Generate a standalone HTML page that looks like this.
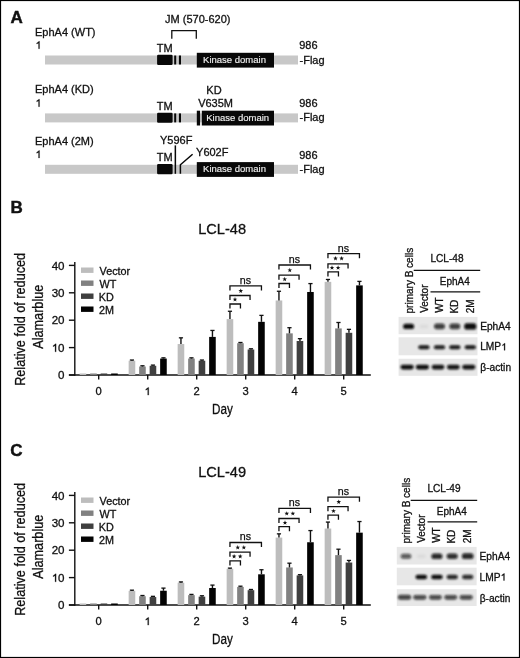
<!DOCTYPE html>
<html><head><meta charset="utf-8"><style>
html,body{margin:0;padding:0;background:#fff;}
svg{display:block;font-family:"Liberation Sans", sans-serif;will-change:transform;}
</style></head><body>
<svg width="520" height="658" viewBox="0 0 520 658">
<defs><filter id="bl" x="-50%" y="-50%" width="200%" height="200%"><feGaussianBlur stdDeviation="1.0"/></filter></defs>
<rect x="0" y="0" width="520" height="658" fill="#fff"/>
<text x="10.48" y="22.90" font-size="17.0" font-weight="bold" fill="#111"  stroke="#111" stroke-width="0.45">A</text>
<text x="35.00" y="35.57" font-size="11.0" fill="#111"  stroke="#111" stroke-width="0.3">EphA4 (WT)</text>
<path d="M39.54,48.73 L39.54,41.30 L38.85,41.30 L38.21,41.95 L36.67,42.97 L36.67,43.95 L38.53,43.14 L38.53,48.73 Z" fill="#111" stroke="#111" stroke-width="0.24"/>
<rect x="45.00" y="55.50" width="253.00" height="9.00" fill="#c8c8c8" />
<text x="156.75" y="52.17" font-size="11.0" fill="#111"  stroke="#111" stroke-width="0.3">TM</text>
<rect x="157.1" y="54.80" width="15.5" height="10.1" rx="1.2" fill="#080808"/>
<rect x="174.20" y="55.50" width="2.00" height="9.00" fill="#080808" />
<rect x="178.90" y="55.50" width="2.10" height="9.00" fill="#080808" />
<rect x="196.80" y="52.80" width="77.20" height="14.80" fill="#080808" />
<text x="203.12" y="62.84" font-size="9.5" fill="#f0f0f0"  stroke="#f0f0f0" stroke-width="0.15">Kinase domain</text>
<text x="299.18" y="49.47" font-size="11.0" fill="#111"  stroke="#111" stroke-width="0.3">986</text>
<text x="299.51" y="63.57" font-size="11.0" fill="#111"  stroke="#111" stroke-width="0.3">-Flag</text>
<text x="165.03" y="23.17" font-size="11.0" fill="#111"  stroke="#111" stroke-width="0.3">JM (570-620)</text>
<path d="M171.8,38.8 V30.6 H196.3 V38.8" stroke="#111" stroke-width="1.3" fill="none"/>
<text x="35.00" y="93.47" font-size="11.0" fill="#111"  stroke="#111" stroke-width="0.3">EphA4 (KD)</text>
<path d="M39.54,106.63 L39.54,99.20 L38.85,99.20 L38.21,99.85 L36.67,100.87 L36.67,101.85 L38.53,101.04 L38.53,106.63 Z" fill="#111" stroke="#111" stroke-width="0.24"/>
<rect x="45.00" y="113.40" width="253.00" height="9.00" fill="#c8c8c8" />
<text x="156.75" y="110.07" font-size="11.0" fill="#111"  stroke="#111" stroke-width="0.3">TM</text>
<rect x="157.1" y="112.70" width="15.5" height="10.1" rx="1.2" fill="#080808"/>
<rect x="174.20" y="113.40" width="2.00" height="9.00" fill="#080808" />
<rect x="178.90" y="113.40" width="2.10" height="9.00" fill="#080808" />
<rect x="196.80" y="110.70" width="3.30" height="14.80" fill="#080808" />
<rect x="201.80" y="110.70" width="72.20" height="14.80" fill="#080808" />
<text x="206.22" y="120.74" font-size="9.5" fill="#f0f0f0"  stroke="#f0f0f0" stroke-width="0.15">Kinase domain</text>
<text x="299.18" y="107.37" font-size="11.0" fill="#111"  stroke="#111" stroke-width="0.3">986</text>
<text x="299.51" y="121.47" font-size="11.0" fill="#111"  stroke="#111" stroke-width="0.3">-Flag</text>
<text x="206.30" y="93.77" font-size="11.0" fill="#111"  stroke="#111" stroke-width="0.3">KD</text>
<text x="198.15" y="107.37" font-size="11.0" fill="#111"  stroke="#111" stroke-width="0.3">V635M</text>
<text x="35.00" y="144.87" font-size="11.0" fill="#111"  stroke="#111" stroke-width="0.3">EphA4 (2M)</text>
<path d="M39.54,158.03 L39.54,150.60 L38.85,150.60 L38.21,151.25 L36.67,152.27 L36.67,153.25 L38.53,152.44 L38.53,158.03 Z" fill="#111" stroke="#111" stroke-width="0.24"/>
<rect x="45.00" y="164.80" width="253.00" height="9.00" fill="#c8c8c8" />
<text x="156.75" y="161.47" font-size="11.0" fill="#111"  stroke="#111" stroke-width="0.3">TM</text>
<rect x="157.1" y="164.10" width="15.5" height="10.1" rx="1.2" fill="#080808"/>
<rect x="196.80" y="162.10" width="77.20" height="14.80" fill="#080808" />
<text x="203.12" y="172.14" font-size="9.5" fill="#f0f0f0"  stroke="#f0f0f0" stroke-width="0.15">Kinase domain</text>
<text x="299.18" y="158.77" font-size="11.0" fill="#111"  stroke="#111" stroke-width="0.3">986</text>
<text x="299.51" y="172.87" font-size="11.0" fill="#111"  stroke="#111" stroke-width="0.3">-Flag</text>
<text x="159.96" y="143.77" font-size="11.0" fill="#111"  stroke="#111" stroke-width="0.3">Y596F</text>
<text x="196.06" y="155.87" font-size="11.0" fill="#111"  stroke="#111" stroke-width="0.3">Y602F</text>
<rect x="174.60" y="145.40" width="1.50" height="28.40" fill="#080808" />
<path d="M192.6,154.2 L180.4,164.8 V173.8" stroke="#080808" stroke-width="1.5" fill="none"/>
<text x="198.18" y="233.94" font-size="14.6" fill="#111"  stroke="#111" stroke-width="0.3">LCL-48</text>
<line x1="74.80" y1="261.90" x2="74.80" y2="375.70" stroke="#111" stroke-width="1.4"/>
<line x1="68.90" y1="375.00" x2="74.80" y2="375.00" stroke="#111" stroke-width="1.4"/>
<text x="58.10" y="379.23" font-size="11.6" fill="#111"  stroke="#111" stroke-width="0.3">0</text>
<line x1="68.90" y1="347.60" x2="74.80" y2="347.60" stroke="#111" stroke-width="1.4"/>
<path d="M56.12,351.83 L56.12,343.85 L55.39,343.85 L54.69,344.55 L53.04,345.65 L53.04,346.69 L55.04,345.82 L55.04,351.83 Z" fill="#111" stroke="#111" stroke-width="0.24"/>
<text x="58.10" y="351.83" font-size="11.6" fill="#111"  stroke="#111" stroke-width="0.3">0</text>
<line x1="68.90" y1="320.20" x2="74.80" y2="320.20" stroke="#111" stroke-width="1.4"/>
<text x="51.65" y="324.43" font-size="11.6" fill="#111"  stroke="#111" stroke-width="0.3">20</text>
<line x1="68.90" y1="292.80" x2="74.80" y2="292.80" stroke="#111" stroke-width="1.4"/>
<text x="51.65" y="297.03" font-size="11.6" fill="#111"  stroke="#111" stroke-width="0.3">30</text>
<line x1="68.90" y1="265.40" x2="74.80" y2="265.40" stroke="#111" stroke-width="1.4"/>
<text x="51.65" y="269.63" font-size="11.6" fill="#111"  stroke="#111" stroke-width="0.3">40</text>
<line x1="68.90" y1="375.00" x2="370.80" y2="375.00" stroke="#111" stroke-width="1.4"/>
<line x1="98.70" y1="375.00" x2="98.70" y2="379.60" stroke="#111" stroke-width="1.4"/>
<text x="95.59" y="395.11" font-size="11.2" fill="#111"  stroke="#111" stroke-width="0.3">0</text>
<line x1="147.70" y1="375.00" x2="147.70" y2="379.60" stroke="#111" stroke-width="1.4"/>
<path d="M148.74,395.11 L148.74,387.40 L148.04,387.40 L147.37,388.07 L145.78,389.14 L145.78,390.14 L147.70,389.30 L147.70,395.11 Z" fill="#111" stroke="#111" stroke-width="0.24"/>
<line x1="196.70" y1="375.00" x2="196.70" y2="379.60" stroke="#111" stroke-width="1.4"/>
<text x="193.59" y="395.11" font-size="11.2" fill="#111"  stroke="#111" stroke-width="0.3">2</text>
<line x1="245.70" y1="375.00" x2="245.70" y2="379.60" stroke="#111" stroke-width="1.4"/>
<text x="242.62" y="395.11" font-size="11.2" fill="#111"  stroke="#111" stroke-width="0.3">3</text>
<line x1="294.70" y1="375.00" x2="294.70" y2="379.60" stroke="#111" stroke-width="1.4"/>
<text x="291.62" y="395.11" font-size="11.2" fill="#111"  stroke="#111" stroke-width="0.3">4</text>
<line x1="343.70" y1="375.00" x2="343.70" y2="379.60" stroke="#111" stroke-width="1.4"/>
<text x="340.60" y="395.11" font-size="11.2" fill="#111"  stroke="#111" stroke-width="0.3">5</text>
<text transform="translate(212.04,414.38) scale(0.79,1)" font-size="14.8" fill="#111"  stroke="#111" stroke-width="0.3">Day</text>
<text transform="translate(25.30,385.84) rotate(-90) scale(0.85,1)" font-size="14.9" fill="#111" stroke="#111" stroke-width="0.3">Relative fold of reduced</text>
<text transform="translate(42.90,348.72) rotate(-90) scale(0.85,1)" font-size="14.9" fill="#111" stroke="#111" stroke-width="0.3">Alamarblue</text>
<rect x="81.00" y="267.50" width="12.50" height="5.40" fill="#bdbdbd" />
<text x="99.55" y="274.83" font-size="10.8" fill="#111"  stroke="#111" stroke-width="0.3">Vector</text>
<rect x="81.00" y="280.50" width="12.50" height="5.40" fill="#818181" />
<text x="99.55" y="287.83" font-size="10.8" fill="#111"  stroke="#111" stroke-width="0.3">WT</text>
<rect x="81.00" y="293.50" width="12.50" height="5.40" fill="#3f3f3f" />
<text x="98.71" y="300.83" font-size="10.8" fill="#111"  stroke="#111" stroke-width="0.3">KD</text>
<rect x="81.00" y="306.50" width="12.50" height="5.40" fill="#030303" />
<text x="99.06" y="313.83" font-size="10.8" fill="#111"  stroke="#111" stroke-width="0.3">2M</text>
<rect x="79.65" y="373.49" width="6.60" height="1.51" fill="#bdbdbd" />
<rect x="90.15" y="373.49" width="6.60" height="1.51" fill="#818181" />
<rect x="100.65" y="373.49" width="6.60" height="1.51" fill="#3f3f3f" />
<rect x="111.15" y="373.49" width="6.60" height="1.51" fill="#030303" />
<rect x="128.65" y="360.75" width="6.60" height="14.25" fill="#bdbdbd" />
<line x1="131.95" y1="359.93" x2="131.95" y2="360.75" stroke="#111" stroke-width="1.4"/>
<line x1="129.85" y1="360.03" x2="134.05" y2="360.03" stroke="#111" stroke-width="1.3"/>
<rect x="139.15" y="366.51" width="6.60" height="8.49" fill="#818181" />
<line x1="142.45" y1="365.68" x2="142.45" y2="366.51" stroke="#111" stroke-width="1.4"/>
<line x1="140.35" y1="365.78" x2="144.55" y2="365.78" stroke="#111" stroke-width="1.3"/>
<rect x="149.65" y="365.82" width="6.60" height="9.18" fill="#3f3f3f" />
<line x1="152.95" y1="365.00" x2="152.95" y2="365.82" stroke="#111" stroke-width="1.4"/>
<line x1="150.85" y1="365.10" x2="155.05" y2="365.10" stroke="#111" stroke-width="1.3"/>
<rect x="160.15" y="358.56" width="6.60" height="16.44" fill="#030303" />
<line x1="163.45" y1="357.74" x2="163.45" y2="358.56" stroke="#111" stroke-width="1.4"/>
<line x1="161.35" y1="357.84" x2="165.55" y2="357.84" stroke="#111" stroke-width="1.3"/>
<rect x="177.65" y="344.04" width="6.60" height="30.96" fill="#bdbdbd" />
<line x1="180.95" y1="337.74" x2="180.95" y2="344.04" stroke="#111" stroke-width="1.4"/>
<line x1="178.85" y1="337.84" x2="183.05" y2="337.84" stroke="#111" stroke-width="1.3"/>
<rect x="188.15" y="358.56" width="6.60" height="16.44" fill="#818181" />
<line x1="191.45" y1="357.74" x2="191.45" y2="358.56" stroke="#111" stroke-width="1.4"/>
<line x1="189.35" y1="357.84" x2="193.55" y2="357.84" stroke="#111" stroke-width="1.3"/>
<rect x="198.65" y="360.75" width="6.60" height="14.25" fill="#3f3f3f" />
<line x1="201.95" y1="359.93" x2="201.95" y2="360.75" stroke="#111" stroke-width="1.4"/>
<line x1="199.85" y1="360.03" x2="204.05" y2="360.03" stroke="#111" stroke-width="1.3"/>
<rect x="209.15" y="336.91" width="6.60" height="38.09" fill="#030303" />
<line x1="212.45" y1="330.34" x2="212.45" y2="336.91" stroke="#111" stroke-width="1.4"/>
<line x1="210.35" y1="330.44" x2="214.55" y2="330.44" stroke="#111" stroke-width="1.3"/>
<rect x="226.65" y="319.10" width="6.60" height="55.90" fill="#bdbdbd" />
<line x1="229.95" y1="311.16" x2="229.95" y2="319.10" stroke="#111" stroke-width="1.4"/>
<line x1="227.85" y1="311.26" x2="232.05" y2="311.26" stroke="#111" stroke-width="1.3"/>
<rect x="237.15" y="343.22" width="6.60" height="31.78" fill="#818181" />
<line x1="240.45" y1="342.39" x2="240.45" y2="343.22" stroke="#111" stroke-width="1.4"/>
<line x1="238.35" y1="342.49" x2="242.55" y2="342.49" stroke="#111" stroke-width="1.3"/>
<rect x="247.65" y="349.52" width="6.60" height="25.48" fill="#3f3f3f" />
<line x1="250.95" y1="348.70" x2="250.95" y2="349.52" stroke="#111" stroke-width="1.4"/>
<line x1="248.85" y1="348.80" x2="253.05" y2="348.80" stroke="#111" stroke-width="1.3"/>
<rect x="258.15" y="321.84" width="6.60" height="53.16" fill="#030303" />
<line x1="261.45" y1="315.27" x2="261.45" y2="321.84" stroke="#111" stroke-width="1.4"/>
<line x1="259.35" y1="315.37" x2="263.55" y2="315.37" stroke="#111" stroke-width="1.3"/>
<rect x="275.65" y="300.47" width="6.60" height="74.53" fill="#bdbdbd" />
<line x1="278.95" y1="291.16" x2="278.95" y2="300.47" stroke="#111" stroke-width="1.4"/>
<line x1="276.85" y1="291.26" x2="281.05" y2="291.26" stroke="#111" stroke-width="1.3"/>
<rect x="286.15" y="333.35" width="6.60" height="41.65" fill="#818181" />
<line x1="289.45" y1="327.60" x2="289.45" y2="333.35" stroke="#111" stroke-width="1.4"/>
<line x1="287.35" y1="327.70" x2="291.55" y2="327.70" stroke="#111" stroke-width="1.3"/>
<rect x="296.65" y="341.02" width="6.60" height="33.98" fill="#3f3f3f" />
<line x1="299.95" y1="338.56" x2="299.95" y2="341.02" stroke="#111" stroke-width="1.4"/>
<line x1="297.85" y1="338.66" x2="302.05" y2="338.66" stroke="#111" stroke-width="1.3"/>
<rect x="307.15" y="291.98" width="6.60" height="83.02" fill="#030303" />
<line x1="310.45" y1="283.48" x2="310.45" y2="291.98" stroke="#111" stroke-width="1.4"/>
<line x1="308.35" y1="283.58" x2="312.55" y2="283.58" stroke="#111" stroke-width="1.3"/>
<rect x="324.65" y="281.84" width="6.60" height="93.16" fill="#bdbdbd" />
<line x1="327.95" y1="279.37" x2="327.95" y2="281.84" stroke="#111" stroke-width="1.4"/>
<line x1="325.85" y1="279.47" x2="330.05" y2="279.47" stroke="#111" stroke-width="1.3"/>
<rect x="335.15" y="328.42" width="6.60" height="46.58" fill="#818181" />
<line x1="338.45" y1="322.39" x2="338.45" y2="328.42" stroke="#111" stroke-width="1.4"/>
<line x1="336.35" y1="322.49" x2="340.55" y2="322.49" stroke="#111" stroke-width="1.3"/>
<rect x="345.65" y="332.80" width="6.60" height="42.20" fill="#3f3f3f" />
<line x1="348.95" y1="329.24" x2="348.95" y2="332.80" stroke="#111" stroke-width="1.4"/>
<line x1="346.85" y1="329.34" x2="351.05" y2="329.34" stroke="#111" stroke-width="1.3"/>
<rect x="356.15" y="285.40" width="6.60" height="89.60" fill="#030303" />
<line x1="359.45" y1="281.29" x2="359.45" y2="285.40" stroke="#111" stroke-width="1.4"/>
<line x1="357.35" y1="281.39" x2="361.55" y2="281.39" stroke="#111" stroke-width="1.3"/>
<path d="M229.95,308.60 V304.00 H240.45 V308.60" stroke="#111" stroke-width="1.3" fill="none"/>
<polygon points="235.00,297.10 235.59,298.74 237.33,298.79 235.95,299.86 236.44,301.53 235.00,300.55 233.56,301.53 234.05,299.86 232.67,298.79 234.41,298.74" fill="#111"/>
<path d="M229.95,300.10 V295.50 H250.05 V300.10" stroke="#111" stroke-width="1.3" fill="none"/>
<polygon points="240.75,288.45 241.34,290.09 243.08,290.14 241.70,291.21 242.19,292.88 240.75,291.90 239.31,292.88 239.80,291.21 238.42,290.14 240.16,290.09" fill="#111"/>
<path d="M229.95,290.40 V285.80 H261.45 V290.40" stroke="#111" stroke-width="1.3" fill="none"/>
<text x="239.79" y="283.70" font-size="10.7" fill="#111"  stroke="#111" stroke-width="0.25">ns</text>
<path d="M278.95,288.10 V283.50 H289.45 V288.10" stroke="#111" stroke-width="1.3" fill="none"/>
<polygon points="284.70,276.85 285.29,278.49 287.03,278.54 285.65,279.61 286.14,281.28 284.70,280.30 283.26,281.28 283.75,279.61 282.37,278.54 284.11,278.49" fill="#111"/>
<path d="M278.95,279.70 V275.10 H299.05 V279.70" stroke="#111" stroke-width="1.3" fill="none"/>
<polygon points="289.80,267.85 290.39,269.49 292.13,269.54 290.75,270.61 291.24,272.28 289.80,271.30 288.36,272.28 288.85,270.61 287.47,269.54 289.21,269.49" fill="#111"/>
<path d="M278.95,269.60 V265.00 H310.45 V269.60" stroke="#111" stroke-width="1.3" fill="none"/>
<text x="288.79" y="262.90" font-size="10.7" fill="#111"  stroke="#111" stroke-width="0.25">ns</text>
<path d="M327.95,276.50 V271.90 H338.45 V276.50" stroke="#111" stroke-width="1.3" fill="none"/>
<polygon points="332.00,265.35 332.59,266.99 334.33,267.04 332.95,268.11 333.44,269.78 332.00,268.80 330.56,269.78 331.05,268.11 329.67,267.04 331.41,266.99" fill="#111"/>
<polygon points="338.10,265.35 338.69,266.99 340.43,267.04 339.05,268.11 339.54,269.78 338.10,268.80 336.66,269.78 337.15,268.11 335.77,267.04 337.51,266.99" fill="#111"/>
<path d="M327.95,268.40 V263.80 H348.05 V268.40" stroke="#111" stroke-width="1.3" fill="none"/>
<polygon points="335.50,255.95 336.09,257.59 337.83,257.64 336.45,258.71 336.94,260.38 335.50,259.40 334.06,260.38 334.55,258.71 333.17,257.64 334.91,257.59" fill="#111"/>
<polygon points="341.60,255.95 342.19,257.59 343.93,257.64 342.55,258.71 343.04,260.38 341.60,259.40 340.16,260.38 340.65,258.71 339.27,257.64 341.01,257.59" fill="#111"/>
<path d="M327.95,258.30 V253.70 H359.45 V258.30" stroke="#111" stroke-width="1.3" fill="none"/>
<text x="337.79" y="251.60" font-size="10.7" fill="#111"  stroke="#111" stroke-width="0.25">ns</text>
<text x="198.20" y="476.94" font-size="14.6" fill="#111"  stroke="#111" stroke-width="0.3">LCL-49</text>
<line x1="74.80" y1="491.90" x2="74.80" y2="605.70" stroke="#111" stroke-width="1.4"/>
<line x1="68.90" y1="605.00" x2="74.80" y2="605.00" stroke="#111" stroke-width="1.4"/>
<text x="58.10" y="609.23" font-size="11.6" fill="#111"  stroke="#111" stroke-width="0.3">0</text>
<line x1="68.90" y1="577.60" x2="74.80" y2="577.60" stroke="#111" stroke-width="1.4"/>
<path d="M56.12,581.83 L56.12,573.85 L55.39,573.85 L54.69,574.55 L53.04,575.65 L53.04,576.69 L55.04,575.82 L55.04,581.83 Z" fill="#111" stroke="#111" stroke-width="0.24"/>
<text x="58.10" y="581.83" font-size="11.6" fill="#111"  stroke="#111" stroke-width="0.3">0</text>
<line x1="68.90" y1="550.20" x2="74.80" y2="550.20" stroke="#111" stroke-width="1.4"/>
<text x="51.65" y="554.43" font-size="11.6" fill="#111"  stroke="#111" stroke-width="0.3">20</text>
<line x1="68.90" y1="522.80" x2="74.80" y2="522.80" stroke="#111" stroke-width="1.4"/>
<text x="51.65" y="527.03" font-size="11.6" fill="#111"  stroke="#111" stroke-width="0.3">30</text>
<line x1="68.90" y1="495.40" x2="74.80" y2="495.40" stroke="#111" stroke-width="1.4"/>
<text x="51.65" y="499.63" font-size="11.6" fill="#111"  stroke="#111" stroke-width="0.3">40</text>
<line x1="68.90" y1="605.00" x2="370.80" y2="605.00" stroke="#111" stroke-width="1.4"/>
<line x1="98.70" y1="605.00" x2="98.70" y2="609.60" stroke="#111" stroke-width="1.4"/>
<text x="95.59" y="625.11" font-size="11.2" fill="#111"  stroke="#111" stroke-width="0.3">0</text>
<line x1="147.70" y1="605.00" x2="147.70" y2="609.60" stroke="#111" stroke-width="1.4"/>
<path d="M148.74,625.11 L148.74,617.40 L148.04,617.40 L147.37,618.07 L145.78,619.14 L145.78,620.14 L147.70,619.30 L147.70,625.11 Z" fill="#111" stroke="#111" stroke-width="0.24"/>
<line x1="196.70" y1="605.00" x2="196.70" y2="609.60" stroke="#111" stroke-width="1.4"/>
<text x="193.59" y="625.11" font-size="11.2" fill="#111"  stroke="#111" stroke-width="0.3">2</text>
<line x1="245.70" y1="605.00" x2="245.70" y2="609.60" stroke="#111" stroke-width="1.4"/>
<text x="242.62" y="625.11" font-size="11.2" fill="#111"  stroke="#111" stroke-width="0.3">3</text>
<line x1="294.70" y1="605.00" x2="294.70" y2="609.60" stroke="#111" stroke-width="1.4"/>
<text x="291.62" y="625.11" font-size="11.2" fill="#111"  stroke="#111" stroke-width="0.3">4</text>
<line x1="343.70" y1="605.00" x2="343.70" y2="609.60" stroke="#111" stroke-width="1.4"/>
<text x="340.60" y="625.11" font-size="11.2" fill="#111"  stroke="#111" stroke-width="0.3">5</text>
<text transform="translate(212.04,644.38) scale(0.79,1)" font-size="14.8" fill="#111"  stroke="#111" stroke-width="0.3">Day</text>
<text transform="translate(25.30,615.84) rotate(-90) scale(0.85,1)" font-size="14.9" fill="#111" stroke="#111" stroke-width="0.3">Relative fold of reduced</text>
<text transform="translate(42.90,578.72) rotate(-90) scale(0.85,1)" font-size="14.9" fill="#111" stroke="#111" stroke-width="0.3">Alamarblue</text>
<rect x="81.00" y="497.50" width="12.50" height="5.40" fill="#bdbdbd" />
<text x="99.55" y="504.83" font-size="10.8" fill="#111"  stroke="#111" stroke-width="0.3">Vector</text>
<rect x="81.00" y="510.50" width="12.50" height="5.40" fill="#818181" />
<text x="99.55" y="517.83" font-size="10.8" fill="#111"  stroke="#111" stroke-width="0.3">WT</text>
<rect x="81.00" y="523.50" width="12.50" height="5.40" fill="#3f3f3f" />
<text x="98.71" y="530.83" font-size="10.8" fill="#111"  stroke="#111" stroke-width="0.3">KD</text>
<rect x="81.00" y="536.50" width="12.50" height="5.40" fill="#030303" />
<text x="99.06" y="543.83" font-size="10.8" fill="#111"  stroke="#111" stroke-width="0.3">2M</text>
<rect x="79.65" y="603.49" width="6.60" height="1.51" fill="#bdbdbd" />
<rect x="90.15" y="603.49" width="6.60" height="1.51" fill="#818181" />
<rect x="100.65" y="603.49" width="6.60" height="1.51" fill="#3f3f3f" />
<rect x="111.15" y="603.49" width="6.60" height="1.51" fill="#030303" />
<rect x="128.65" y="590.89" width="6.60" height="14.11" fill="#bdbdbd" />
<line x1="131.95" y1="590.07" x2="131.95" y2="590.89" stroke="#111" stroke-width="1.4"/>
<line x1="129.85" y1="590.17" x2="134.05" y2="590.17" stroke="#111" stroke-width="1.3"/>
<rect x="139.15" y="596.23" width="6.60" height="8.77" fill="#818181" />
<line x1="142.45" y1="595.41" x2="142.45" y2="596.23" stroke="#111" stroke-width="1.4"/>
<line x1="140.35" y1="595.51" x2="144.55" y2="595.51" stroke="#111" stroke-width="1.3"/>
<rect x="149.65" y="597.05" width="6.60" height="7.95" fill="#3f3f3f" />
<line x1="152.95" y1="596.23" x2="152.95" y2="597.05" stroke="#111" stroke-width="1.4"/>
<line x1="150.85" y1="596.33" x2="155.05" y2="596.33" stroke="#111" stroke-width="1.3"/>
<rect x="160.15" y="590.75" width="6.60" height="14.25" fill="#030303" />
<line x1="163.45" y1="588.01" x2="163.45" y2="590.75" stroke="#111" stroke-width="1.4"/>
<line x1="161.35" y1="588.11" x2="165.55" y2="588.11" stroke="#111" stroke-width="1.3"/>
<rect x="177.65" y="582.67" width="6.60" height="22.33" fill="#bdbdbd" />
<line x1="180.95" y1="581.85" x2="180.95" y2="582.67" stroke="#111" stroke-width="1.4"/>
<line x1="178.85" y1="581.95" x2="183.05" y2="581.95" stroke="#111" stroke-width="1.3"/>
<rect x="188.15" y="595.14" width="6.60" height="9.86" fill="#818181" />
<line x1="191.45" y1="594.31" x2="191.45" y2="595.14" stroke="#111" stroke-width="1.4"/>
<line x1="189.35" y1="594.41" x2="193.55" y2="594.41" stroke="#111" stroke-width="1.3"/>
<rect x="198.65" y="596.64" width="6.60" height="8.36" fill="#3f3f3f" />
<line x1="201.95" y1="595.68" x2="201.95" y2="596.64" stroke="#111" stroke-width="1.4"/>
<line x1="199.85" y1="595.78" x2="204.05" y2="595.78" stroke="#111" stroke-width="1.3"/>
<rect x="209.15" y="588.01" width="6.60" height="16.99" fill="#030303" />
<line x1="212.45" y1="585.00" x2="212.45" y2="588.01" stroke="#111" stroke-width="1.4"/>
<line x1="210.35" y1="585.10" x2="214.55" y2="585.10" stroke="#111" stroke-width="1.3"/>
<rect x="226.65" y="568.83" width="6.60" height="36.17" fill="#bdbdbd" />
<line x1="229.95" y1="568.01" x2="229.95" y2="568.83" stroke="#111" stroke-width="1.4"/>
<line x1="227.85" y1="568.11" x2="232.05" y2="568.11" stroke="#111" stroke-width="1.3"/>
<rect x="237.15" y="586.92" width="6.60" height="18.08" fill="#818181" />
<line x1="240.45" y1="586.09" x2="240.45" y2="586.92" stroke="#111" stroke-width="1.4"/>
<line x1="238.35" y1="586.19" x2="242.55" y2="586.19" stroke="#111" stroke-width="1.3"/>
<rect x="247.65" y="590.20" width="6.60" height="14.80" fill="#3f3f3f" />
<line x1="250.95" y1="589.38" x2="250.95" y2="590.20" stroke="#111" stroke-width="1.4"/>
<line x1="248.85" y1="589.48" x2="253.05" y2="589.48" stroke="#111" stroke-width="1.3"/>
<rect x="258.15" y="574.31" width="6.60" height="30.69" fill="#030303" />
<line x1="261.45" y1="569.65" x2="261.45" y2="574.31" stroke="#111" stroke-width="1.4"/>
<line x1="259.35" y1="569.75" x2="263.55" y2="569.75" stroke="#111" stroke-width="1.3"/>
<rect x="275.65" y="537.60" width="6.60" height="67.40" fill="#bdbdbd" />
<line x1="278.95" y1="533.76" x2="278.95" y2="537.60" stroke="#111" stroke-width="1.4"/>
<line x1="276.85" y1="533.86" x2="281.05" y2="533.86" stroke="#111" stroke-width="1.3"/>
<rect x="286.15" y="567.46" width="6.60" height="37.54" fill="#818181" />
<line x1="289.45" y1="563.08" x2="289.45" y2="567.46" stroke="#111" stroke-width="1.4"/>
<line x1="287.35" y1="563.18" x2="291.55" y2="563.18" stroke="#111" stroke-width="1.3"/>
<rect x="296.65" y="575.41" width="6.60" height="29.59" fill="#3f3f3f" />
<line x1="299.95" y1="574.59" x2="299.95" y2="575.41" stroke="#111" stroke-width="1.4"/>
<line x1="297.85" y1="574.69" x2="302.05" y2="574.69" stroke="#111" stroke-width="1.3"/>
<rect x="307.15" y="542.25" width="6.60" height="62.75" fill="#030303" />
<line x1="310.45" y1="530.47" x2="310.45" y2="542.25" stroke="#111" stroke-width="1.4"/>
<line x1="308.35" y1="530.57" x2="312.55" y2="530.57" stroke="#111" stroke-width="1.3"/>
<rect x="324.65" y="528.55" width="6.60" height="76.45" fill="#bdbdbd" />
<line x1="327.95" y1="521.98" x2="327.95" y2="528.55" stroke="#111" stroke-width="1.4"/>
<line x1="325.85" y1="522.08" x2="330.05" y2="522.08" stroke="#111" stroke-width="1.3"/>
<rect x="335.15" y="555.13" width="6.60" height="49.87" fill="#818181" />
<line x1="338.45" y1="549.10" x2="338.45" y2="555.13" stroke="#111" stroke-width="1.4"/>
<line x1="336.35" y1="549.20" x2="340.55" y2="549.20" stroke="#111" stroke-width="1.3"/>
<rect x="345.65" y="562.53" width="6.60" height="42.47" fill="#3f3f3f" />
<line x1="348.95" y1="560.34" x2="348.95" y2="562.53" stroke="#111" stroke-width="1.4"/>
<line x1="346.85" y1="560.44" x2="351.05" y2="560.44" stroke="#111" stroke-width="1.3"/>
<rect x="356.15" y="532.66" width="6.60" height="72.34" fill="#030303" />
<line x1="359.45" y1="521.43" x2="359.45" y2="532.66" stroke="#111" stroke-width="1.4"/>
<line x1="357.35" y1="521.53" x2="361.55" y2="521.53" stroke="#111" stroke-width="1.3"/>
<path d="M229.95,565.50 V560.90 H240.45 V565.50" stroke="#111" stroke-width="1.3" fill="none"/>
<polygon points="234.10,553.95 234.69,555.59 236.43,555.64 235.05,556.71 235.54,558.38 234.10,557.40 232.66,558.38 233.15,556.71 231.77,555.64 233.51,555.59" fill="#111"/>
<polygon points="240.20,553.95 240.79,555.59 242.53,555.64 241.15,556.71 241.64,558.38 240.20,557.40 238.76,558.38 239.25,556.71 237.87,555.64 239.61,555.59" fill="#111"/>
<path d="M229.95,556.80 V552.20 H250.05 V556.80" stroke="#111" stroke-width="1.3" fill="none"/>
<polygon points="237.75,545.05 238.34,546.69 240.08,546.74 238.70,547.81 239.19,549.48 237.75,548.50 236.31,549.48 236.80,547.81 235.42,546.74 237.16,546.69" fill="#111"/>
<polygon points="243.85,545.05 244.44,546.69 246.18,546.74 244.80,547.81 245.29,549.48 243.85,548.50 242.41,549.48 242.90,547.81 241.52,546.74 243.26,546.69" fill="#111"/>
<path d="M229.95,547.10 V542.50 H261.45 V547.10" stroke="#111" stroke-width="1.3" fill="none"/>
<text x="239.79" y="540.40" font-size="10.7" fill="#111"  stroke="#111" stroke-width="0.25">ns</text>
<path d="M278.95,531.30 V526.70 H289.45 V531.30" stroke="#111" stroke-width="1.3" fill="none"/>
<polygon points="285.00,520.35 285.59,521.99 287.33,522.04 285.95,523.11 286.44,524.78 285.00,523.80 283.56,524.78 284.05,523.11 282.67,522.04 284.41,521.99" fill="#111"/>
<path d="M278.95,523.10 V518.50 H299.05 V523.10" stroke="#111" stroke-width="1.3" fill="none"/>
<polygon points="286.75,511.15 287.34,512.79 289.08,512.84 287.70,513.91 288.19,515.58 286.75,514.60 285.31,515.58 285.80,513.91 284.42,512.84 286.16,512.79" fill="#111"/>
<polygon points="292.85,511.15 293.44,512.79 295.18,512.84 293.80,513.91 294.29,515.58 292.85,514.60 291.41,515.58 291.90,513.91 290.52,512.84 292.26,512.79" fill="#111"/>
<path d="M278.95,513.00 V508.40 H310.45 V513.00" stroke="#111" stroke-width="1.3" fill="none"/>
<text x="288.79" y="506.30" font-size="10.7" fill="#111"  stroke="#111" stroke-width="0.25">ns</text>
<path d="M327.95,519.80 V515.20 H338.45 V519.80" stroke="#111" stroke-width="1.3" fill="none"/>
<polygon points="333.50,508.65 334.09,510.29 335.83,510.34 334.45,511.41 334.94,513.08 333.50,512.10 332.06,513.08 332.55,511.41 331.17,510.34 332.91,510.29" fill="#111"/>
<path d="M327.95,511.20 V506.60 H348.05 V511.20" stroke="#111" stroke-width="1.3" fill="none"/>
<polygon points="338.75,499.45 339.34,501.09 341.08,501.14 339.70,502.21 340.19,503.88 338.75,502.90 337.31,503.88 337.80,502.21 336.42,501.14 338.16,501.09" fill="#111"/>
<path d="M327.95,501.80 V497.20 H359.45 V501.80" stroke="#111" stroke-width="1.3" fill="none"/>
<text x="337.79" y="495.10" font-size="10.7" fill="#111"  stroke="#111" stroke-width="0.25">ns</text>
<text x="10.46" y="212.50" font-size="17.0" font-weight="bold" fill="#111"  stroke="#111" stroke-width="0.45">B</text>
<text x="10.20" y="455.50" font-size="17.0" font-weight="bold" fill="#111"  stroke="#111" stroke-width="0.45">C</text>
<text transform="translate(412.70,313.44) rotate(-90) scale(1.0,1)" font-size="10.0" fill="#111" stroke="#111" stroke-width="0.3">primary B cells</text>
<text transform="translate(427.60,312.84) rotate(-90) scale(1.0,1)" font-size="10.0" fill="#111" stroke="#111" stroke-width="0.3">Vector</text>
<text transform="translate(443.30,312.84) rotate(-90) scale(1.0,1)" font-size="10.0" fill="#111" stroke="#111" stroke-width="0.3">WT</text>
<text transform="translate(458.40,313.62) rotate(-90) scale(1.0,1)" font-size="10.0" fill="#111" stroke="#111" stroke-width="0.3">KD</text>
<text transform="translate(474.40,313.30) rotate(-90) scale(1.0,1)" font-size="10.0" fill="#111" stroke="#111" stroke-width="0.3">2M</text>
<text x="430.44" y="261.85" font-size="10.1" fill="#111"  stroke="#111" stroke-width="0.3">LCL-48</text>
<line x1="413.70" y1="270.30" x2="480.20" y2="270.30" stroke="#111" stroke-width="1.3"/>
<text x="439.78" y="285.18" font-size="10.0" fill="#111"  stroke="#111" stroke-width="0.3">EphA4</text>
<line x1="430.50" y1="291.90" x2="480.20" y2="291.90" stroke="#111" stroke-width="1.3"/>
<rect x="398.60" y="316.90" width="78.90" height="17.30" fill="#e7e7e7" />
<text x="480.16" y="329.57" font-size="10.2" fill="#111"  stroke="#111" stroke-width="0.3">EphA4</text>
<rect x="403.10" y="323.70" width="11.00" height="5.40" rx="2.60" fill="#0a0a0a" fill-opacity="1.0" filter="url(#bl)"/>
<rect x="419.40" y="324.40" width="9.00" height="4.00" rx="2.00" fill="#0a0a0a" fill-opacity="0.05" filter="url(#bl)"/>
<rect x="434.10" y="323.60" width="10.80" height="5.60" rx="2.60" fill="#0a0a0a" fill-opacity="0.78" filter="url(#bl)"/>
<rect x="449.40" y="323.60" width="10.80" height="5.60" rx="2.60" fill="#0a0a0a" fill-opacity="0.78" filter="url(#bl)"/>
<rect x="464.30" y="323.20" width="12.00" height="6.40" rx="2.60" fill="#0a0a0a" fill-opacity="1.0" filter="url(#bl)"/>
<rect x="398.60" y="337.30" width="78.90" height="18.00" fill="#e7e7e7" />
<text x="480.16" y="350.32" font-size="10.2" fill="#111"  stroke="#111" stroke-width="0.3">LMP</text>
<path d="M505.06,350.32 L505.06,343.30 L504.42,343.30 L503.81,343.91 L502.36,344.88 L502.36,345.80 L504.11,345.03 L504.11,350.32 Z" fill="#111" stroke="#111" stroke-width="0.24"/>
<rect x="418.30" y="345.20" width="11.20" height="4.00" rx="2.00" fill="#0a0a0a" fill-opacity="0.95" filter="url(#bl)"/>
<rect x="433.90" y="345.20" width="11.20" height="4.00" rx="2.00" fill="#0a0a0a" fill-opacity="0.92" filter="url(#bl)"/>
<rect x="449.20" y="345.20" width="11.20" height="4.00" rx="2.00" fill="#0a0a0a" fill-opacity="0.95" filter="url(#bl)"/>
<rect x="464.70" y="345.20" width="11.20" height="4.00" rx="2.00" fill="#0a0a0a" fill-opacity="0.95" filter="url(#bl)"/>
<rect x="398.60" y="358.75" width="78.90" height="17.05" fill="#e7e7e7" />
<text x="480.29" y="371.29" font-size="10.2" fill="#111"  stroke="#111" stroke-width="0.3">β-actin</text>
<rect x="400.50" y="364.80" width="13.20" height="4.60" rx="2.30" fill="#0a0a0a" fill-opacity="1.0" filter="url(#bl)"/>
<rect x="415.80" y="364.80" width="13.20" height="4.60" rx="2.30" fill="#0a0a0a" fill-opacity="1.0" filter="url(#bl)"/>
<rect x="431.60" y="364.80" width="12.80" height="4.60" rx="2.30" fill="#0a0a0a" fill-opacity="0.97" filter="url(#bl)"/>
<rect x="446.90" y="364.80" width="12.80" height="4.60" rx="2.30" fill="#0a0a0a" fill-opacity="0.97" filter="url(#bl)"/>
<rect x="462.20" y="364.80" width="13.20" height="4.60" rx="2.30" fill="#0a0a0a" fill-opacity="0.97" filter="url(#bl)"/>
<text transform="translate(409.70,543.44) rotate(-90) scale(1.0,1)" font-size="10.0" fill="#111" stroke="#111" stroke-width="0.3">primary B cells</text>
<text transform="translate(424.60,542.84) rotate(-90) scale(1.0,1)" font-size="10.0" fill="#111" stroke="#111" stroke-width="0.3">Vector</text>
<text transform="translate(440.30,542.84) rotate(-90) scale(1.0,1)" font-size="10.0" fill="#111" stroke="#111" stroke-width="0.3">WT</text>
<text transform="translate(455.40,543.62) rotate(-90) scale(1.0,1)" font-size="10.0" fill="#111" stroke="#111" stroke-width="0.3">KD</text>
<text transform="translate(471.40,543.30) rotate(-90) scale(1.0,1)" font-size="10.0" fill="#111" stroke="#111" stroke-width="0.3">2M</text>
<text x="427.46" y="491.85" font-size="10.1" fill="#111"  stroke="#111" stroke-width="0.3">LCL-49</text>
<line x1="410.70" y1="500.30" x2="477.20" y2="500.30" stroke="#111" stroke-width="1.3"/>
<text x="436.78" y="515.18" font-size="10.0" fill="#111"  stroke="#111" stroke-width="0.3">EphA4</text>
<line x1="427.50" y1="521.90" x2="477.20" y2="521.90" stroke="#111" stroke-width="1.3"/>
<rect x="396.80" y="546.90" width="79.80" height="17.60" fill="#e7e7e7" />
<text x="479.56" y="559.72" font-size="10.2" fill="#111"  stroke="#111" stroke-width="0.3">EphA4</text>
<rect x="400.70" y="553.70" width="10.60" height="5.00" rx="2.50" fill="#0a0a0a" fill-opacity="0.65" filter="url(#bl)"/>
<rect x="416.80" y="554.20" width="9.00" height="4.00" rx="2.00" fill="#0a0a0a" fill-opacity="0.05" filter="url(#bl)"/>
<rect x="431.40" y="553.40" width="11.00" height="5.60" rx="2.60" fill="#0a0a0a" fill-opacity="0.88" filter="url(#bl)"/>
<rect x="446.70" y="553.50" width="11.00" height="5.40" rx="2.60" fill="#0a0a0a" fill-opacity="0.85" filter="url(#bl)"/>
<rect x="461.90" y="553.30" width="11.60" height="5.80" rx="2.60" fill="#0a0a0a" fill-opacity="0.88" filter="url(#bl)"/>
<rect x="396.80" y="567.70" width="79.80" height="17.60" fill="#e7e7e7" />
<text x="479.56" y="580.52" font-size="10.2" fill="#111"  stroke="#111" stroke-width="0.3">LMP</text>
<path d="M504.46,580.52 L504.46,573.50 L503.82,573.50 L503.21,574.11 L501.76,575.08 L501.76,576.00 L503.51,575.23 L503.51,580.52 Z" fill="#111" stroke="#111" stroke-width="0.24"/>
<rect x="415.50" y="574.70" width="11.60" height="4.60" rx="2.30" fill="#0a0a0a" fill-opacity="1.0" filter="url(#bl)"/>
<rect x="431.10" y="574.70" width="11.60" height="4.60" rx="2.30" fill="#0a0a0a" fill-opacity="1.0" filter="url(#bl)"/>
<rect x="446.60" y="574.80" width="11.20" height="4.40" rx="2.20" fill="#0a0a0a" fill-opacity="0.88" filter="url(#bl)"/>
<rect x="462.10" y="574.80" width="11.20" height="4.40" rx="2.20" fill="#0a0a0a" fill-opacity="0.85" filter="url(#bl)"/>
<rect x="396.80" y="589.20" width="79.80" height="16.80" fill="#e7e7e7" />
<text x="479.69" y="601.62" font-size="10.2" fill="#111"  stroke="#111" stroke-width="0.3">β-actin</text>
<rect x="397.90" y="594.80" width="13.20" height="5.00" rx="2.50" fill="#0a0a0a" fill-opacity="0.75" filter="url(#bl)"/>
<rect x="413.20" y="594.90" width="13.20" height="4.80" rx="2.40" fill="#0a0a0a" fill-opacity="0.72" filter="url(#bl)"/>
<rect x="429.00" y="594.90" width="12.80" height="4.80" rx="2.40" fill="#0a0a0a" fill-opacity="0.72" filter="url(#bl)"/>
<rect x="444.30" y="594.90" width="12.80" height="4.80" rx="2.40" fill="#0a0a0a" fill-opacity="0.72" filter="url(#bl)"/>
<rect x="459.60" y="594.90" width="13.20" height="4.80" rx="2.40" fill="#0a0a0a" fill-opacity="0.72" filter="url(#bl)"/>
<rect x="0.5" y="0.5" width="519" height="657" fill="none" stroke="#000" stroke-width="1.2"/>
</svg>
</body></html>
